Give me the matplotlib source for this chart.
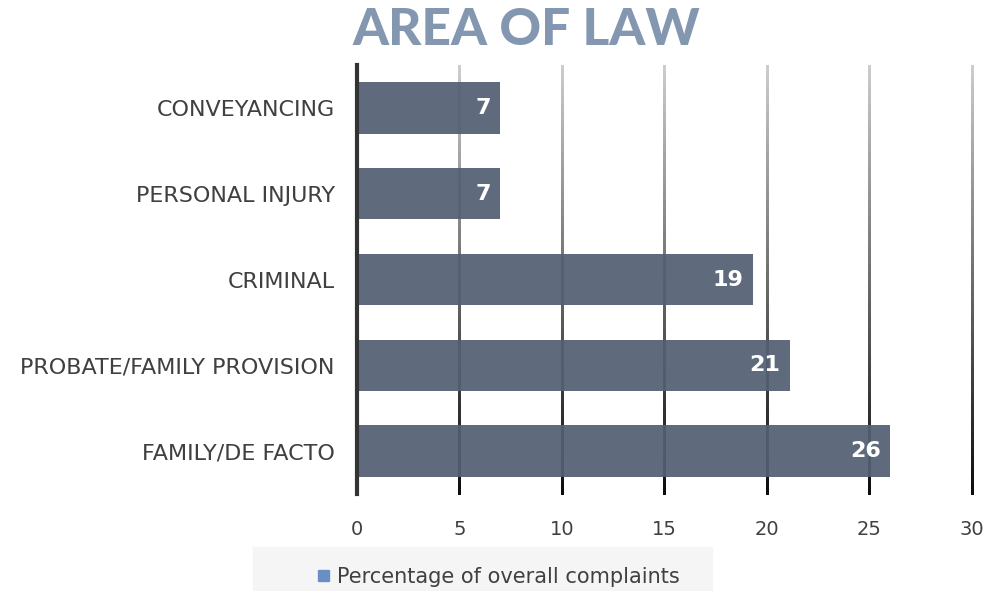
import numpy as np
import matplotlib
matplotlib.use("Agg")
import matplotlib.pyplot as plt
from matplotlib.collections import LineCollection
from matplotlib.patches import Rectangle

categories = ["FAMILY/DE FACTO", "PROBATE/FAMILY PROVISION", "CRIMINAL",
              "PERSONAL INJURY", "CONVEYANCING"]
values = [26.0, 21.1, 19.3, 7.0, 7.0]
labels = ["26", "21", "19", "7", "7"]
xticks = [0, 5, 10, 15, 20, 25, 30]
series_name = "Percentage of overall complaints"

fig = plt.figure(figsize=(9.87, 5.91), dpi=100)
ax = fig.add_axes([0.3617, 0.1641, 0.6231, 0.7259])

ypos = np.arange(len(categories))
# slightly see-through bars so the gridlines show faintly, as in the original
ax.barh(ypos, values, height=0.6, color="#536072", alpha=0.93, zorder=2)

ax.set_xlim(0, 30)
ax.set_ylim(-0.5, 4.5)

# gradient gridlines: light at top, dark at bottom
n = 80
ys = np.linspace(-0.5, 4.5, n + 1)
for xv in xticks[1:]:
    segs = [[(xv, ys[i]), (xv, ys[i + 1])] for i in range(n)]
    g = 0.05 + 0.75 * np.linspace(0, 1, n)
    cols = [(gi, gi, gi) for gi in g]
    lc = LineCollection(segs, colors=cols, linewidths=2.0, zorder=1,
                        capstyle="butt", antialiaseds=False)
    lc.set_clip_on(False)
    ax.add_collection(lc)

for s in ["top", "right", "bottom"]:
    ax.spines[s].set_visible(False)
ax.spines["left"].set_color("#333333")
ax.spines["left"].set_linewidth(3)
ax.spines["left"].set_zorder(4)

ax.set_xticks(xticks)
ax.set_yticks(ypos)
ax.set_yticklabels(categories)
ax.tick_params(axis="x", length=0, pad=19, labelsize=14, labelcolor="#404040")
ax.tick_params(axis="y", length=0, pad=16, labelsize=16, labelcolor="#404040")

for y, v, lab in zip(ypos, values, labels):
    ax.text(v - 0.45, y, lab, ha="right", va="center", color="white",
            fontsize=16, fontweight="bold", zorder=5)

fig.text(0.533, 0.948, "AREA OF LAW", ha="center", va="center",
         fontsize=37, fontweight="black", color="#8497b0", family="Lato")

# legend area
fig.patches.append(Rectangle((253 / 987, 0), (712 - 253) / 987, 44 / 591,
                             transform=fig.transFigure, color="#f5f5f5", zorder=0))
fig.patches.append(Rectangle((318 / 987, 1 - 581 / 591), 11 / 987, 11 / 591,
                             transform=fig.transFigure, color="#6a8fc4", zorder=1))
fig.text(337 / 987, 1 - 577 / 591, series_name, ha="left", va="center",
         fontsize=15, color="#404040")

plt.savefig("out.png", dpi=100)
